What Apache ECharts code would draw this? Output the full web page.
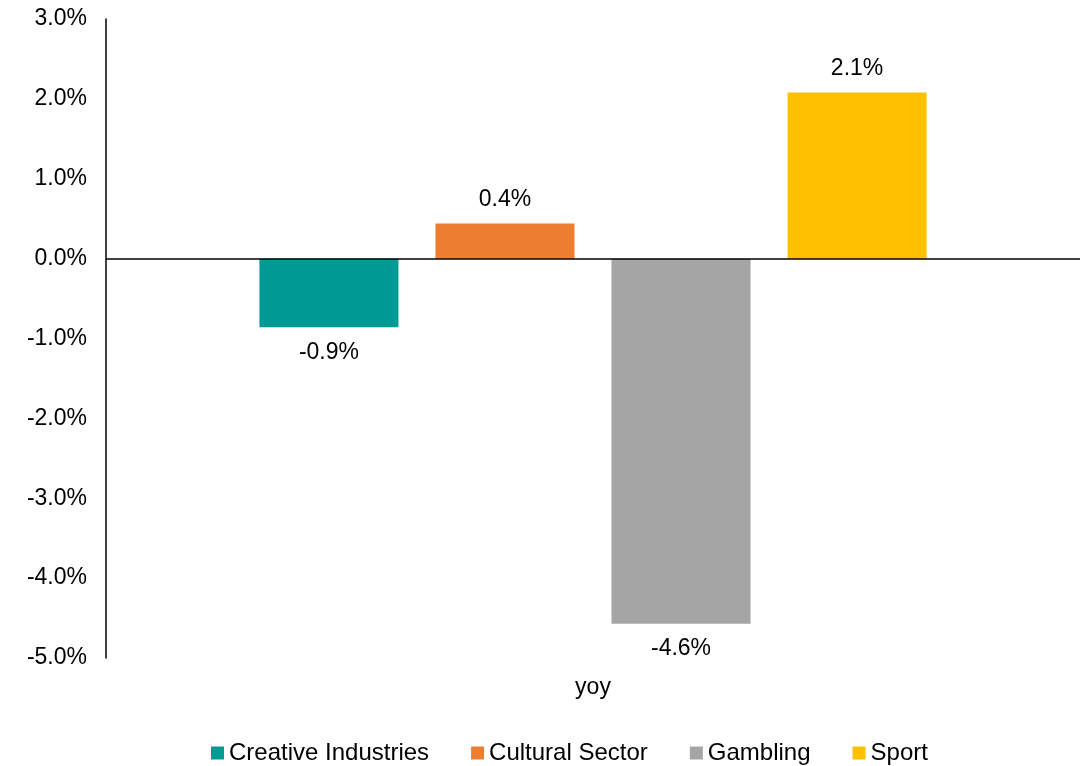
<!DOCTYPE html>
<html>
<head>
<meta charset="utf-8">
<script src="https://cdn.jsdelivr.net/npm/echarts@6/dist/echarts.min.js"></script>
<style>html,body{margin:0;padding:0;background:#fff}#c{width:1084px;height:766px}</style>
</head>
<body>
<div id="c"></div>
<script>
const categories = ['yoy'];
const seriesNames = ['Creative Industries', 'Cultural Sector', 'Gambling', 'Sport'];
const creative = [-0.86];
const cultural = [0.44];
const gambling = [-4.57];
const sport = [2.08];
const colors = ['#009B94', '#ED7D31', '#A5A5A5', '#FFC000'];
const valuesList = [creative, cultural, gambling, sport];

const font = 'Liberation Sans, Arial, sans-serif';
const chart = echarts.init(document.getElementById('c'));
const series = seriesNames.map((name, i) => {
  const neg = valuesList[i][0] < 0;
  const s = {
    name: name,
    type: 'bar',
    data: valuesList[i],
    itemStyle: { color: colors[i] },
    barGap: '26.6%',
    barCategoryGap: '31.5%',
    label: {
      show: true,
      position: neg ? 'bottom' : 'top',
      distance: neg ? 14 : 12,
      color: '#000',
      fontSize: 23,
      fontFamily: font,
      formatter: p => p.value.toFixed(1) + '%'
    }
  };
  if (i === 0) {
    s.markLine = {
      silent: true,
      symbol: 'none',
      label: { show: false },
      lineStyle: { color: '#000', width: 1.5, type: 'solid' },
      data: [{ yAxis: 0 }],
      animation: false
    };
  }
  return s;
});

chart.setOption({
  animation: false,
  color: colors,
  grid: { left: 106, right: 4, top: 19, bottom: 108, containLabel: false },
  legend: {
    top: 736,
    left: 206,
    itemWidth: 13,
    itemHeight: 13,
    itemGap: 42,
    icon: 'rect',
    textStyle: { fontSize: 24, fontFamily: font, color: '#000', padding: [0, 0, 0, 0] },
    data: seriesNames
  },
  xAxis: {
    type: 'category',
    data: categories,
    axisLine: { show: false, onZero: false },
    axisTick: { show: false },
    axisLabel: { fontSize: 23, fontFamily: font, color: '#000', margin: 18 }
  },
  yAxis: {
    type: 'value',
    min: -5,
    max: 3,
    interval: 1,
    axisLine: { show: true, lineStyle: { color: '#000', width: 1.5 } },
    axisTick: { show: false },
    splitLine: { show: false },
    axisLabel: {
      fontSize: 23, fontFamily: font, color: '#000', margin: 19,
      formatter: v => v.toFixed(1) + '%'
    }
  },
  series: series
});
</script>
</body>
</html>
